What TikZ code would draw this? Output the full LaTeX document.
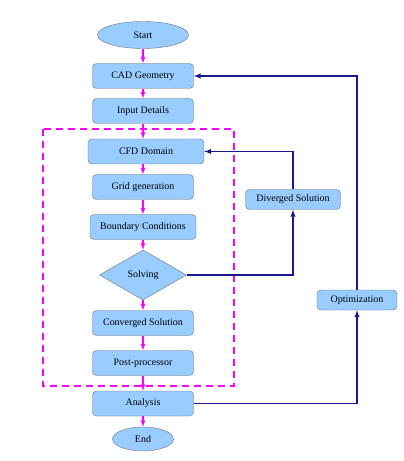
\documentclass[tikz,border=0pt]{standalone}
\usepackage{fontspec}
\setmainfont{Liberation Serif}
\usetikzlibrary{arrows,shapes}
\usetikzlibrary{positioning}
\definecolor{boxblue}{RGB}{153,204,255}
\definecolor{boxgray}{RGB}{105,115,125}
\definecolor{flowpink}{RGB}{255,0,255}
\definecolor{loopblue}{RGB}{25,25,140}

\begin{document}
\begin{tikzpicture}[x=1bp, y=-1bp, >=latex,
   box/.style={draw=boxgray, fill=boxblue, rounded corners=4bp, minimum height=25bp, inner sep=0pt, font=\fontsize{10}{12}\selectfont},
   term/.style={ellipse, draw=boxgray, fill=boxblue, inner sep=0pt, font=\fontsize{10}{12}\selectfont},
   flow/.style={->, flowpink, line width=1.2bp},
   back/.style={->, loopblue, line width=1.4bp}]

  \useasboundingbox (0,0) rectangle (403,461);

  \def\cx{143};

	%start and end
  \node[term, minimum width=91bp, minimum height=27bp] (start) at (\cx,35) {Start};
  \node[term, minimum width=61bp, minimum height=24bp] (end) at (\cx,439) {End};

	%main column
    \foreach \y/\w/\txt/\name in {76/101/CAD Geometry/cad, 111/101/Input Details/input, 187/101/Grid generation/grid, 227/106/Boundary Conditions/bc, 323/101/Converged Solution/conv, 363/101/Post-processor/post, 403.5/101/Analysis/ana}{
         \node[box, minimum width=\w bp] (\name) at (\cx,\y) {\txt};
    }
  \node[box, minimum width=116bp] (cfd) at (146,151.5) {CFD Domain};
  \node[diamond, draw=boxgray, fill=boxblue, inner sep=0pt, minimum width=87bp, minimum height=50bp, font=\fontsize{10}{12}\selectfont] (solve) at (\cx,275) {Solving};

	%side boxes
  \node[box, minimum width=95bp, minimum height=20bp] (div) at (293,199.5) {Diverged Solution};
  \node[box, minimum width=80bp, minimum height=20bp] (opt) at (357,300) {Optimization};

	%solver frame
  \draw[flowpink, line width=2bp, dash pattern=on 7bp off 5bp] (42.5,129) rectangle (234,386);

	%flow
    \foreach \a/\b in {start/cad, cad/input, input/cfd, cfd/grid, grid/bc, bc/solve, solve/conv, conv/post, post/ana, ana/end}{
         \draw[flow] (\a.south -| start) -- (\b.north -| start);
    }

	%loops
  \draw[back] (solve.east) -| (div.south);
  \draw[back] (div.north) |- (cfd.east);
  \draw[back] (ana.east) -| (opt.south);
  \draw[back] (opt.north) |- (cad.east);

\end{tikzpicture}
\end{document}
